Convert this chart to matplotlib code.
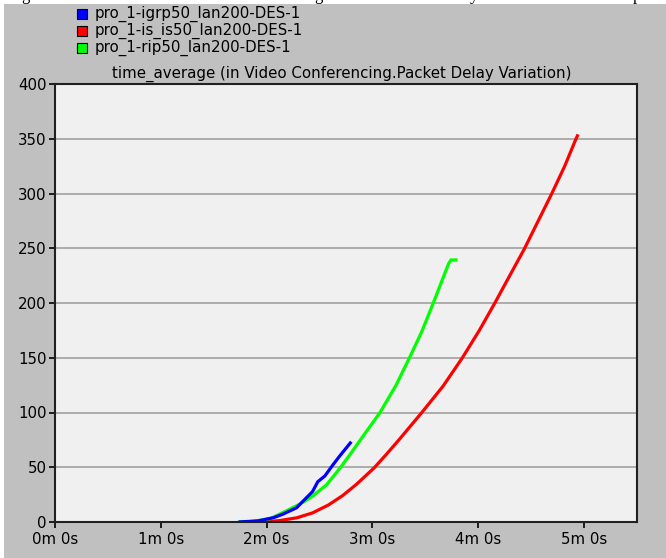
import matplotlib
matplotlib.use("Agg")
import matplotlib.pyplot as plt
from matplotlib.patches import Rectangle
from matplotlib.ticker import FixedLocator

# Packet delay variation (time_average), x in seconds of simulation time
igrp_t = [104, 115, 124, 129, 137, 140, 146, 149, 153, 157.5, 161.3, 168]
igrp_v = [0, 1, 4, 7, 13, 18, 27.7, 36.8, 42, 52, 60, 73.3]

isis_t = [110, 118, 127, 137, 146, 155, 163, 171, 178, 181, 188, 195, 208, 220,
          231, 240.6, 249.4, 257.5, 266, 274, 281.7, 289, 295.3, 296.6]
isis_v = [0, 0.2, 1.2, 3.8, 8.3, 15.5, 24, 34.5, 45, 49.5, 62, 75, 100, 124,
          150, 175, 200, 224, 249, 275, 300, 325, 349.5, 354]

rip_t = [104, 112, 122, 131, 139, 146, 154, 161.5, 167, 174.5, 184.3, 193.4,
         201, 208, 214.5, 219.8, 223.2, 224.5, 228.3]
rip_v = [0, 0.5, 3, 10, 16.5, 23.5, 34, 49, 61, 78, 100, 125,
         150, 174, 200, 222, 236, 239.3, 239.3]

series_names = ["pro_1-igrp50_lan200-DES-1",
                "pro_1-is_is50_lan200-DES-1",
                "pro_1-rip50_lan200-DES-1"]
series_colors = ["#0000ff", "#ff0000", "#00ff00"]

x_ticks = [0, 60, 120, 180, 240, 300]
x_tick_labels = ["0m 0s", "1m 0s", "2m 0s", "3m 0s", "4m 0s", "5m 0s"]
y_ticks = [0, 50, 100, 150, 200, 250, 300, 350, 400]

title = "time_average (in Video Conferencing.Packet Delay Variation)"

W, H = 666, 558
fig = plt.figure(figsize=(W / 100, H / 100), dpi=100, facecolor="white")
font = "DejaVu Sans"
fsize = 10.8

# grey panel with a thin white margin on the top and left
fig.patches.append(Rectangle((4 / W, 0), 1, 1 - 4 / H, transform=fig.transFigure,
                             facecolor="#c0c0c0", edgecolor="none", zorder=1))
# descenders of the caption line above the panel
for ch, px in [("g", 25), ("g", 318), ("y", 474), ("p", 637)]:
    fig.text(px / W, 1 - 0.5 / H, ch, family="Liberation Serif", fontsize=12,
             va="baseline", ha="center", zorder=0)

ax = fig.add_axes([55 / W, 1 - 522 / H, (637 - 55) / W, (522 - 84) / H], zorder=2)
ax.set_facecolor("#f0f0f0")
ax.set_xlim(0, 330)
ax.set_ylim(0, 400)

ax.xaxis.set_major_locator(FixedLocator(x_ticks))
ax.set_xticklabels(x_tick_labels)
ax.yaxis.set_major_locator(FixedLocator(y_ticks))
ax.set_yticklabels([str(v) for v in y_ticks])
for lab in ax.get_xticklabels() + ax.get_yticklabels():
    lab.set_family(font)
    lab.set_fontsize(fsize)
    lab.set_color("black")
ax.tick_params(axis="both", direction="out", length=4, width=1.2, color="black")
ax.tick_params(axis="x", pad=3)
ax.tick_params(axis="y", pad=2)

ax.grid(axis="y", color="#a0a0a0", linewidth=1.2)
ax.set_axisbelow(True)
for sp in ax.spines.values():
    sp.set_color("#202020")
    sp.set_linewidth(1.5)

ax.plot(isis_t, isis_v, color=series_colors[1], linewidth=2.3, solid_capstyle="butt")
ax.plot(rip_t, rip_v, color=series_colors[2], linewidth=2.3, solid_capstyle="butt")
ax.plot(igrp_t, igrp_v, color=series_colors[0], linewidth=2.3, solid_capstyle="butt")

fig.text((102 + 582) / 2 / W, 1 - 74 / H, title, family=font, fontsize=fsize,
         ha="center", va="center", zorder=3)

# legend block
for i, (name, col) in enumerate(zip(series_names, series_colors)):
    yc = 14 + 17 * i
    fig.patches.append(Rectangle((77 / W, 1 - (yc + 5) / H), 10 / W, 10 / H,
                                 transform=fig.transFigure, facecolor=col,
                                 edgecolor="black", linewidth=0.8, zorder=3))
    fig.text(95 / W, 1 - yc / H, name, family=font, fontsize=fsize,
             ha="left", va="center", zorder=3)

fig.savefig("out.png", dpi=100, facecolor=fig.get_facecolor())
